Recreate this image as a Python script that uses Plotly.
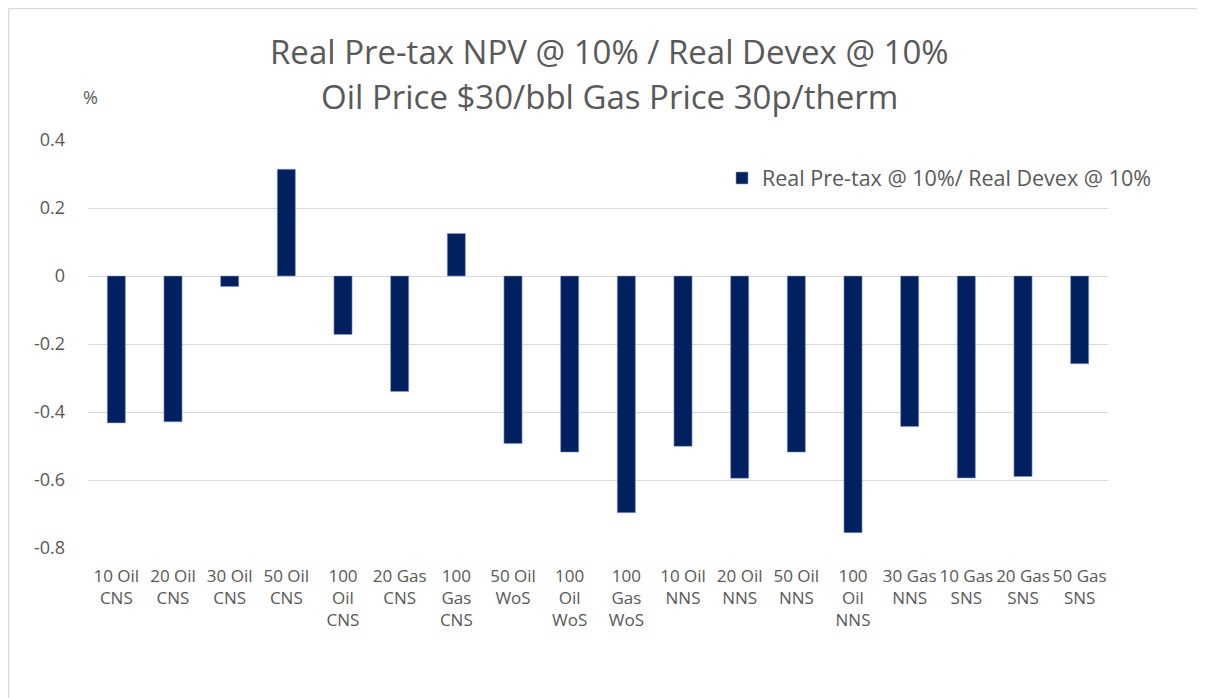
import plotly.graph_objects as go

# categories and ratio values
categories = [
    "10 Oil<br>CNS", "20 Oil<br>CNS", "30 Oil<br>CNS", "50 Oil<br>CNS",
    "100<br>Oil<br>CNS", "20 Gas<br>CNS", "100<br>Gas<br>CNS", "50 Oil<br>WoS",
    "100<br>Oil<br>WoS", "100<br>Gas<br>WoS", "10 Oil<br>NNS", "20 Oil<br>NNS",
    "50 Oil<br>NNS", "100<br>Oil<br>NNS", "30 Gas<br>NNS", "10 Gas<br>SNS",
    "20 Gas<br>SNS", "50 Gas<br>SNS",
]
npv_ratio = [
    -0.432, -0.429, -0.031, 0.314, -0.172, -0.340, 0.125, -0.493, -0.518,
    -0.696, -0.501, -0.595, -0.518, -0.755, -0.443, -0.594, -0.590, -0.258,
]
y_ticks = [0.4, 0.2, 0, -0.2, -0.4, -0.6, -0.8]
y_tick_text = ["0.4", "0.2", "0", "-0.2", "-0.4", "-0.6", "-0.8"]
title_lines = ["Real Pre-tax NPV @ 10% / Real Devex @ 10%",
               "Oil Price $30/bbl Gas Price 30p/therm"]

navy = "#002060"
txt = "#595959"
font_name = "Open Sans"

# page has an 8px body margin, so everything is placed 8px up/left
W, H = 1197, 690
ml, mr, mt, mb = 80, 97, 132, 150
pw, ph = W - ml - mr, H - mt - mb


def px(x):
    return (x - ml) / pw


def py(y):
    return 1 - (y - mt) / ph


fig = go.Figure()
fig.add_trace(go.Bar(
    x=categories, y=npv_ratio, name="Real Pre-tax @ 10%/ Real Devex @ 10%",
    marker=dict(color=navy, line=dict(color="#8ea0c8", width=0.6)),
))

# chart area border: only top and left edges show
fig.add_shape(type="line", xref="paper", yref="paper", x0=px(0.5), x1=px(W), y0=py(0.5), y1=py(0.5),
              line=dict(color="#d9d9d9", width=1.5))
fig.add_shape(type="line", xref="paper", yref="paper", x0=px(0.5), x1=px(0.5), y0=py(0.5), y1=py(H),
              line=dict(color="#d9d9d9", width=1.5))

for line, yy in zip(title_lines, [44, 89]):
    fig.add_annotation(text=line, xref="paper", yref="paper", x=px(601), y=py(yy),
                       xanchor="center", yanchor="middle", showarrow=False,
                       font=dict(family=font_name, size=33, color=txt))

fig.add_annotation(text="%", xref="paper", yref="paper", x=px(82), y=py(89),
                   xanchor="center", yanchor="middle", showarrow=False,
                   font=dict(family=font_name, size=18, color=txt))

fig.update_layout(
    width=W, height=H,
    margin=dict(l=ml, r=mr, t=mt, b=mb),
    paper_bgcolor="white", plot_bgcolor="white",
    bargap=0.68,
    showlegend=True,
    legend=dict(x=px(714), y=py(170), xanchor="left", yanchor="middle",
                font=dict(family=font_name, size=21.5, color=txt), bgcolor="rgba(0,0,0,0)",
                itemwidth=30),
    font=dict(family=font_name, color=txt),
)
fig.update_xaxes(tickfont=dict(family=font_name, size=17, color=txt), showgrid=False,
                 ticks="", ticklabelstandoff=16, tickangle=0)
fig.update_yaxes(range=[-0.8, 0.4], tickvals=y_ticks, ticktext=y_tick_text,
                 tickfont=dict(family=font_name, size=18, color=txt),
                 gridcolor="#d9d9d9", gridwidth=1.2, zeroline=True, zerolinecolor="#d9d9d9",
                 zerolinewidth=1.2, ticklabelstandoff=22, showline=False)

fig.write_html("out.html")
